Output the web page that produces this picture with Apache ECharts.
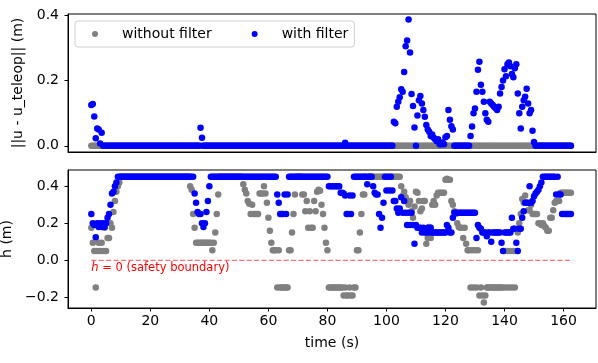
<!DOCTYPE html>
<html>
<head>
<meta charset="UTF-8">
<title>h with / without filter</title>
<style>
html,body{margin:0;padding:0;background:#fff;}
#chart{width:598px;height:363px;}
</style>
</head>
<body>
<div id="chart"></div>
<script src="https://cdn.jsdelivr.net/npm/echarts@6/dist/echarts.min.js"></script>
<script>
// logged samples, one every dt seconds starting at t = 0
let dt = 0.5;
let xTicks = [0, 20, 40, 60, 80, 100, 120, 140, 160];
let uTicks = [0, 0.2, 0.4];
let hTicks = [-0.2, 0, 0.2, 0.4];
let boundaryT = [0, 162.5];
let boundaryH = [0, 0];

// ||u - u_teleop|| without filter (m)
let uRaw = [
0,0,0,0,0,0,0,0,0,0,0,0,0,0,0,0,0,0,0,0,
0,0,0,0,0,0,0,0,0,0,0,0,0,0,0,0,0,0,0,0,
0,0,0,0,0,0,0,0,0,0,0,0,0,0,0,0,0,0,0,0,
0,0,0,0,0,0,0,0,0,0,0,0,0,0,0,0,0,0,0,0,
0,0,0,0,0,0,0,0,0,0,0,0,0,0,0,0,0,0,0,0,
0,0,0,0,0,0,0,0,0,0,0,0,0,0,0,0,0,0,0,0,
0,0,0,0,0,0,0,0,0,0,0,0,0,0,0,0,0,0,0,0,
0,0,0,0,0,0,0,0,0,0,0,0,0,0,0,0,0,0,0,0,
0,0,0,0,0,0,0,0,0,0,0,0,0,0,0,0,0,0,0,0,
0,0,0,0,0,0,0,0,0,0,0,0,0,0,0,0,0,0,0,0,
0,0,0,0,0,0,0,0,0,0,0,0,0,0,0,0,0,0,0,0,
0,0,0,0,0,0,0,0,0,0,0,0,0,0,0,0,0,0,0,0,
0,0,0,0,0,0,0,0,0,0,0,0,0,0,0,0,0,0,0,0,
0,0,0,0,0,0,0,0,0,0,0,0,0,0,0,0,0,0,0,0,
0,0,0,0,0,0,0,0,0,0,0,0,0,0,0,0,0,0,0,0,
0,0,0,0,0,0,0,0,0,0,0,0,0,0,0,0,0,0,0,0,
0,0,0,0,0,0
];

// ||u - u_teleop|| with filter (m)
let uFilt = [
.125,.128,.09,.023,.053,.05,.007,.04,0,0,0,0,0,0,0,0,0,0,0,0,
0,0,0,0,0,0,0,0,0,0,0,0,0,0,0,0,0,0,0,0,
0,0,0,0,0,0,0,0,0,0,0,0,0,0,0,0,0,0,0,0,
0,0,0,0,0,0,0,0,0,0,0,0,0,0,.055,.025,0,0,0,0,
0,0,0,0,0,0,0,0,0,0,0,0,0,0,0,0,0,0,0,0,
0,0,0,0,0,0,0,0,0,0,0,0,0,0,0,0,0,0,0,0,
0,0,0,0,0,0,0,0,0,0,0,0,0,0,0,0,0,0,0,0,
0,0,0,0,0,0,0,0,0,0,0,0,0,0,0,0,0,0,0,0,
0,0,0,0,0,0,0,0,0,0,0,0,.009,0,0,0,0,0,0,0,
0,0,0,0,0,0,0,0,0,0,0,0,0,0,0,0,0,0,0,0,
0,0,0,0,0,.074,.069,.12,.135,.149,.173,.166,.226,.305,.323,.387,.286,.159,.122,.056,
0,.093,.14,.153,.13,.11,.089,.064,.05,.043,.03,.035,.025,.02,.015,.02,.005,.005,.01,.005,
.026,.03,.11,.08,.06,.05,0,0,0,0,0,0,0,0,0,0,0,.03,.059,.1,
.114,.166,.233,.258,.187,.166,.135,.1,.08,.074,.135,.13,.125,.12,.115,.11,.12,.16,.18,.2,
.235,.213,.25,.255,.244,.22,.21,.238,.25,.16,.1,.053,.12,.14,.15,.175,.13,.1,.11,.046,
.012,0,0,0,0,0,0,0,0,0,0,0,0,0,0,0,0,0,0,0,
0,0,0,0,0,0
];

// h without filter (m)
let hRaw = [
.175,.095,.05,-.147,.05,.095,.05,.095,.05,.175,.05,.12,.12,.2,.175,.26,.32,.37,.4,.42,
.45,.45,.45,.45,.45,.45,.45,.45,.45,.45,.45,.45,.45,.45,.45,.45,.45,.45,.45,.45,
.45,.45,.45,.45,.45,.45,.45,.45,.45,.45,.45,.45,.45,.45,.45,.45,.45,.45,.45,.45,
.45,.45,.45,.45,.45,.45,.45,.4,.38,.25,.175,.095,.095,.095,.095,.095,.095,.095,.095,.095,
.095,.095,.054,.095,.15,.25,.355,.45,.45,.45,.45,.45,.45,.45,.45,.45,.45,.45,.45,.45,
.45,.45,.45,.41,.38,.36,.32,.305,.25,.3,.25,.25,.25,.25,.36,.36,.36,.4,.36,.31,
.23,.16,.095,.054,.054,.054,-.147,.054,-.147,-.147,-.147,-.147,-.147,-.147,.054,.054,.15,.25,.355,.45,
.45,.45,.45,.355,.355,.265,.32,.175,.265,.175,.175,.32,.265,.37,.38,.375,.3,.25,.175,.095,
.054,-.147,-.147,-.147,-.147,-.147,-.147,-.147,-.147,-.147,-.147,-.19,-.147,-.19,-.19,-.147,-.19,-.19,-.147,-.147,
.054,.054,.15,.25,.355,.355,.45,.45,.45,.45,.45,.45,.45,.45,.45,.45,.45,.45,.45,.45,
.45,.45,.45,.45,.45,.45,.45,.45,.45,.45,.4,.35,.37,.34,.32,.3,.32,.265,.23,.29,
.37,.365,.32,.265,.28,.32,.32,.09,.12,.18,.12,.3,.32,.3,.35,.365,.365,.365,.365,.365,
.435,.44,.435,.435,.32,.3,.265,.25,.2,.18,.175,.175,.12,.175,.09,.054,.054,-.147,.054,-.147,
.054,-.147,.054,-.19,-.147,-.19,-.227,-.19,-.147,-.147,-.147,-.147,-.147,-.147,-.147,-.147,-.147,-.147,-.147,-.147,
.05,-.147,.05,-.147,.05,-.147,.05,-.147,.05,.15,.2,.25,.33,.31,.35,.31,.27,.27,.3,.25,
.25,.25,.25,.2,.2,.19,.2,.185,.175,.16,.16,.23,.23,.27,.31,.32,.32,.32,.365,.365,
.365,.365,.365,.365,.365,.365
];

// h with filter (m)
let hFilt = [
.25,.2,.19,.125,.2,.18,.2,.18,.2,.18,.2,.23,.25,.3,.36,.37,.4,.42,.45,.45,
.45,.45,.45,.45,.45,.45,.45,.45,.45,.45,.45,.45,.45,.45,.45,.45,.45,.45,.45,.45,
.45,.45,.45,.45,.45,.45,.45,.45,.45,.45,.45,.45,.45,.45,.45,.45,.45,.45,.45,.45,
.45,.45,.45,.45,.45,.45,.45,.45,.45,.45,.36,.31,.26,.25,.25,.2,.18,.2,.26,.32,
.4,.45,.45,.45,.45,.45,.45,.45,.45,.45,.45,.45,.45,.45,.45,.45,.45,.45,.45,.45,
.45,.45,.45,.45,.45,.45,.45,.45,.45,.45,.45,.45,.45,.45,.45,.45,.45,.45,.45,.45,
.45,.45,.45,.45,.45,.45,.355,.31,.25,.25,.25,.355,.25,.355,.45,.45,.45,.45,.45,.45,
.45,.45,.45,.45,.45,.45,.45,.45,.45,.45,.45,.45,.45,.45,.45,.45,.45,.45,.45,.45,
.45,.4,.4,.4,.4,.4,.4,.4,.4,.365,.365,.36,.35,.25,.25,.35,.25,.35,.45,.45,
.45,.45,.45,.45,.45,.45,.45,.41,.45,.45,.45,.4,.365,.355,.355,.25,.175,.23,.31,.45,
.376,.45,.376,.45,.376,.32,.32,.28,.256,.28,.34,.256,.32,.256,.19,.256,.19,.256,.19,.09,
.19,.175,.175,.175,.15,.175,.15,.15,.175,.15,.175,.15,.15,.15,.15,.15,.15,.15,.15,.15,
.15,.19,.175,.15,.15,.23,.256,.256,.256,.256,.256,.256,.256,.256,.256,.256,.256,.256,.256,.256,
.256,.12,.19,.175,.17,.15,.15,.15,.13,.15,.15,.1,.15,.15,.15,.15,.15,.15,.095,.05,
.15,.15,.15,.15,.15,.23,.17,.17,.095,.05,.17,.17,.23,.265,.31,.31,.31,.4,.31,.32,
.345,.36,.37,.38,.4,.42,.45,.45,.45,.45,.45,.45,.45,.45,.45,.355,.45,.355,.355,.25,
.25,.25,.25,.25,.25,.25
];

let font = 'DejaVu Sans';
let gray = '#808080';
let blue = '#0000ff';

function toPoints(vals) {
    return vals.map((v, i) => [i * dt, v]);
}
function fmt1(v) {
    return v.toFixed(1).replace('-', '\u2212');
}

let chart = echarts.init(document.getElementById('chart'), null, {renderer: 'canvas'});

let axisLine = {show: true, onZero: false, lineStyle: {color: '#000', width: 1}};
let tickStyle = {color: '#000', width: 1};
let labelStyle = {color: '#000', fontFamily: font, fontSize: 14};

let option = {
    animation: false,
    backgroundColor: '#fff',
    grid: [
        {left: 68, right: 2, top: 14, height: 138, show: true, borderColor: '#000', borderWidth: 1,
         containLabel: false, outerBoundsMode: 'none'},
        {left: 68, right: 2, top: 170, height: 138, show: true, borderColor: '#000', borderWidth: 1,
         containLabel: false, outerBoundsMode: 'none'}
    ],
    legend: {
        left: 75, top: 21,
        data: ['without filter', 'with filter'],
        icon: 'circle', itemWidth: 6, itemHeight: 6, itemGap: 40,
        padding: [5, 6, 5, 17],
        backgroundColor: '#fff', borderColor: '#d0d0d0', borderWidth: 1, borderRadius: 3,
        selectedMode: false,
        itemStyle: {opacity: 1},
        textStyle: {fontFamily: font, fontSize: 14, color: '#000', padding: [0, 0, 0, 19], lineHeight: 16}
    },
    xAxis: [
        {
            type: 'value', gridIndex: 0, min: -7.9, max: 171,
            axisLine: axisLine, splitLine: {show: false},
            axisTick: {show: false}, axisLabel: {show: false}
        },
        {
            type: 'value', gridIndex: 1, min: -7.9, max: 171,
            axisLine: axisLine, splitLine: {show: false},
            axisTick: {show: true, length: 3.5, lineStyle: tickStyle, customValues: xTicks},
            axisLabel: Object.assign({margin: 6, customValues: xTicks}, labelStyle),
            name: 'time (s)', nameLocation: 'middle', nameGap: 28,
            nameTextStyle: labelStyle
        }
    ],
    yAxis: [
        {
            type: 'value', gridIndex: 0, min: -0.019, max: 0.404,
            axisLine: axisLine, splitLine: {show: false},
            axisTick: {show: true, length: 3.5, lineStyle: tickStyle, customValues: uTicks},
            axisLabel: Object.assign({margin: 9, customValues: uTicks, formatter: fmt1}, labelStyle),
            name: '||u - u_teleop|| (m)', nameLocation: 'middle', nameRotate: 90, nameGap: 40,
            nameTextStyle: labelStyle
        },
        {
            type: 'value', gridIndex: 1, min: -0.257, max: 0.487,
            axisLine: axisLine, splitLine: {show: false},
            axisTick: {show: true, length: 3.5, lineStyle: tickStyle, customValues: hTicks},
            axisLabel: Object.assign({margin: 9, customValues: hTicks, formatter: fmt1}, labelStyle),
            name: 'h (m)', nameLocation: 'middle', nameRotate: 90, nameGap: 49,
            nameTextStyle: labelStyle
        }
    ],
    series: [
        {
            name: 'without filter', type: 'scatter', xAxisIndex: 0, yAxisIndex: 0,
            data: toPoints(uRaw), symbolSize: 6.5, itemStyle: {color: gray, opacity: 1}, z: 2, silent: true
        },
        {
            name: 'with filter', type: 'scatter', xAxisIndex: 0, yAxisIndex: 0,
            data: toPoints(uFilt), symbolSize: 6.5, itemStyle: {color: blue, opacity: 1}, z: 3, silent: true
        },
        {
            name: 'without filter', type: 'scatter', xAxisIndex: 1, yAxisIndex: 1,
            data: toPoints(hRaw), symbolSize: 6.5, itemStyle: {color: gray, opacity: 1}, z: 2, silent: true
        },
        {
            name: 'with filter', type: 'scatter', xAxisIndex: 1, yAxisIndex: 1,
            data: toPoints(hFilt), symbolSize: 6.5, itemStyle: {color: blue, opacity: 1}, z: 3, silent: true
        },
        {
            name: 'safety boundary', type: 'line', xAxisIndex: 1, yAxisIndex: 1,
            data: boundaryT.map((t, i) => [t, boundaryH[i]]),
            symbol: 'none', silent: true, z: 1,
            lineStyle: {color: 'rgba(255,0,0,0.55)', width: 1.2, type: [5, 2.4]}
        },
        {
            name: 'boundary label', type: 'scatter', xAxisIndex: 1, yAxisIndex: 1,
            data: [[boundaryT[0], boundaryH[0]]],
            symbolSize: 1, itemStyle: {color: 'transparent', opacity: 1}, silent: true, z: 4,
            label: {
                show: true, position: 'bottom', distance: 1, align: 'left',
                formatter: '{i|h} = 0 (safety boundary)',
                color: '#ff0000', fontFamily: font, fontSize: 11.5,
                rich: {i: {fontStyle: 'italic', color: '#ff0000', fontFamily: font, fontSize: 11.5}}
            }
        }
    ]
};

chart.setOption(option);
</script>
</body>
</html>
